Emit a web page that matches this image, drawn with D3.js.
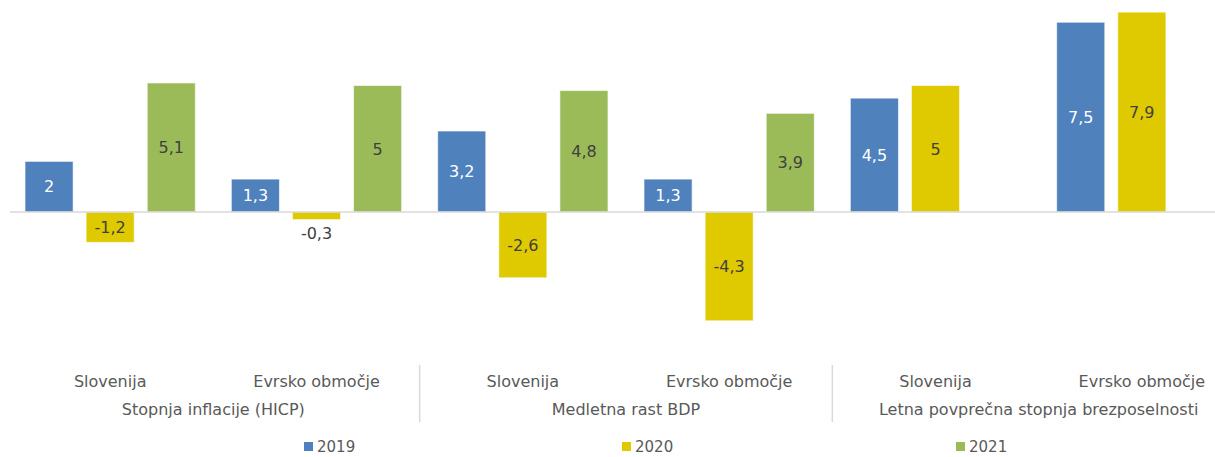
<!DOCTYPE html>
<html>
<head>
<meta charset="utf-8">
<script src="https://cdn.jsdelivr.net/npm/d3@7"></script>
<style>
  body { margin: 0; background: #fff; }
  svg { display: block; font-family: "DejaVu Sans", sans-serif; }
</style>
</head>
<body>
<div id="chart"></div>
<script>
const categories = ["Stopnja inflacije (HICP)", "Medletna rast BDP", "Letna povprečna stopnja brezposelnosti"]
const regions = ["Slovenija", "Evrsko območje"]
const years = ["2019", "2020", "2021"]
const v2019 = [2, 1.3, 3.2, 1.3, 4.5, 7.5]
const v2020 = [-1.2, -0.3, -2.6, -4.3, 5, 7.9]
const v2021 = [5.1, 5, 4.8, 3.9, null, null]

const colors = {"2019": "#4f81bd", "2020": "#dfc900", "2021": "#9bbb59"}
const labelColors = {"2019": "#ffffff", "2020": "#404040", "2021": "#404040"}

const svg_width = 1215
const svg_height = 457

// one group per (category, region) pair
const groups = []
categories.forEach((c, ci) => regions.forEach((r, ri) => groups.push({cat: c, region: r, i: ci * regions.length + ri})))

const seriesValues = {"2019": v2019, "2020": v2020, "2021": v2021}
const bars = []
groups.forEach(g => years.forEach(y => {
    const v = seriesValues[y][g.i]
    if (v !== null) bars.push({group: g.i, year: y, value: v})
}))

// chart is wider than the window (cropped on the right like the original)
const xGroup = d3.scaleBand()
        .domain(groups.map(g => g.i))
        .range([7, 1245])
        .padding(0)

const xYear = d3.scaleBand()
        .domain(years)
        .range([0, xGroup.bandwidth()])
        .paddingInner(0.213)
        .paddingOuter(0.295)

const yScale = d3.scaleLinear()
        .domain([-5, 8])
        .range([338.5, 9.6])

const svg = d3.select('#chart')
            .append('svg')
            .attr('width', svg_width)
            .attr('height', svg_height)

// bars
svg.selectAll('rect.bar')
    .data(bars)
    .join('rect')
        .attr('class', 'bar')
        .attr('x', d => xGroup(d.group) + xYear(d.year))
        .attr('width', xYear.bandwidth())
        .attr('y', d => yScale(Math.max(0, d.value)))
        .attr('height', d => Math.abs(yScale(d.value) - yScale(0)))
        .attr('fill', d => colors[d.year])
        .attr('stroke', '#ffffff')
        .attr('stroke-opacity', 0.6)
        .attr('stroke-width', 1)

// zero line
svg.append('line')
    .attr('x1', 10).attr('x2', svg_width)
    .attr('y1', yScale(0)).attr('y2', yScale(0))
    .attr('stroke', '#d9d9d9')
    .attr('stroke-width', 1.5)

// value labels, centered in bar; tiny bars get the label just outside
svg.selectAll('text.val')
    .data(bars)
    .join('text')
        .attr('class', 'val')
        .attr('x', d => xGroup(d.group) + xYear(d.year) + xYear.bandwidth() / 2)
        .attr('y', d => {
            const h = Math.abs(yScale(d.value) - yScale(0))
            if (h < 20) return yScale(d.value) + 14
            return (yScale(d.value) + yScale(0)) / 2
        })
        .attr('dy', '0.36em')
        .attr('text-anchor', 'middle')
        .attr('font-size', '16px')
        .attr('fill', d => Math.abs(yScale(d.value) - yScale(0)) < 20 ? '#404040' : labelColors[d.year])
        .text(d => String(d.value).replace('.', ','))

// region labels
svg.selectAll('text.region')
    .data(groups)
    .join('text')
        .attr('class', 'region')
        .attr('x', d => xGroup(d.i) + xGroup.bandwidth() / 2)
        .attr('y', 387)
        .attr('text-anchor', 'middle')
        .attr('font-size', '16px')
        .attr('fill', '#595959')
        .text(d => d.region)

// category labels
const catWidth = xGroup.bandwidth() * regions.length
svg.selectAll('text.cat')
    .data(categories)
    .join('text')
        .attr('class', 'cat')
        .attr('x', (d, i) => xGroup(i * regions.length) + catWidth / 2)
        .attr('y', 415)
        .attr('text-anchor', 'middle')
        .attr('font-size', '16px')
        .attr('fill', '#595959')
        .text(d => d)

// separators between categories
svg.selectAll('line.sep')
    .data(d3.range(1, categories.length))
    .join('line')
        .attr('class', 'sep')
        .attr('x1', i => xGroup(i * regions.length))
        .attr('x2', i => xGroup(i * regions.length))
        .attr('y1', 365).attr('y2', 422)
        .attr('stroke', '#d9d9d9')
        .attr('stroke-width', 1.5)

// legend
const legendX = [304, 622, 956]
const legend = svg.selectAll('g.legend')
    .data(years)
    .join('g')
        .attr('class', 'legend')
        .attr('transform', (d, i) => `translate(${legendX[i]},0)`)
legend.append('rect')
    .attr('x', 0).attr('y', 442)
    .attr('width', 9).attr('height', 9)
    .attr('fill', d => colors[d])
legend.append('text')
    .attr('x', 13).attr('y', 452)
    .attr('font-size', '15px')
    .attr('fill', '#595959')
    .text(d => d)
</script>
</body>
</html>
